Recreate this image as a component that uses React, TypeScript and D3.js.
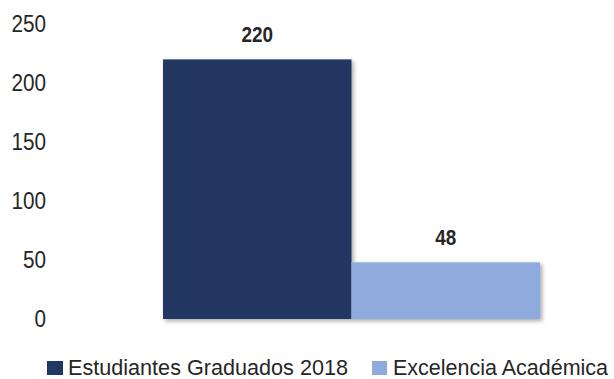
import * as React from "react";
import * as d3 from "d3";

const categories = ["Estudiantes Graduados 2018", "Excelencia Académica"];
const values = [220, 48];
const colors = ["#203864", "#8FAADC"];
const yTickValues = [0, 50, 100, 150, 200, 250];

export default function App() {
  const width = 614;
  const height = 379;
  const baseline = 319;
  const top = 24;

  const xScale = d3.scaleBand<string>().domain(categories).range([163, 540]).padding(0);
  const yScale = d3.scaleLinear().domain([0, 250]).range([baseline, top]);

  const font = "'Liberation Sans', Arial, sans-serif";

  return (
    <svg
      width={width}
      height={height}
      style={{ position: "absolute", left: 0, top: 0 }}
      fontFamily={font}
    >
      <defs>
        <filter id="shadow" x="-10%" y="-10%" width="130%" height="130%">
          <feDropShadow dx={2} dy={2} stdDeviation={2} floodColor="#000" floodOpacity={0.35} />
        </filter>
      </defs>
      <rect width={width} height={height} fill="#fff" />

      {/* y labels */}
      <g textAnchor="end" fontSize={23} fill="#262626">
        {yTickValues.map((t) => (
          <text
            key={t}
            x={46}
            y={yScale(t)}
            dy="0.35em"
            transform="translate(46,0) scale(0.9,1) translate(-46,0)"
          >
            {t}
          </text>
        ))}
      </g>

      {/* bars */}
      <g filter="url(#shadow)">
        {categories.map((c, i) => (
          <rect
            key={c}
            x={xScale(c)}
            y={yScale(values[i])}
            width={xScale.bandwidth()}
            height={baseline - yScale(values[i])}
            fill={colors[i]}
          />
        ))}
      </g>

      {/* value labels */}
      <g textAnchor="middle" fontSize={22} fontWeight="bold" fill="#262626">
        {categories.map((c, i) => {
          const cx = (xScale(c) ?? 0) + xScale.bandwidth() / 2;
          return (
            <text
              key={c}
              x={cx}
              y={yScale(values[i]) - 17}
              transform={`translate(${cx},0) scale(0.86,1) translate(${-cx},0)`}
            >
              {values[i]}
            </text>
          );
        })}
      </g>

      {/* legend */}
      <g fontSize={22} fill="#262626">
        <rect x={47} y={361} width={16} height={14} fill={colors[0]} />
        <text x={68} y={375} textLength={280} lengthAdjust="spacingAndGlyphs">
          {categories[0]}
        </text>
        <rect x={372} y={361} width={15} height={14} fill={colors[1]} />
        <text x={393} y={375} textLength={215} lengthAdjust="spacingAndGlyphs">
          {categories[1]}
        </text>
      </g>
    </svg>
  );
}
